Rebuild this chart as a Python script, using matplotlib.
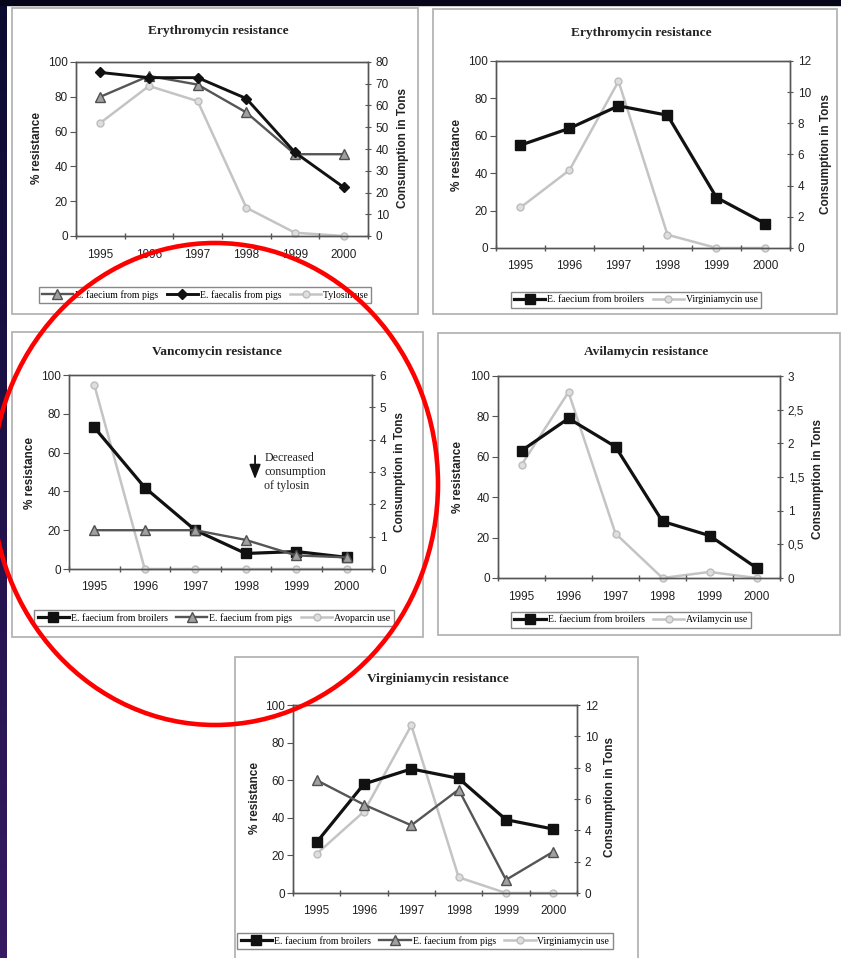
import numpy as np
import matplotlib
matplotlib.use('Agg')
import matplotlib.pyplot as plt
from matplotlib.patches import Rectangle, Ellipse
from matplotlib.ticker import FuncFormatter

W, H = 841, 958
years = ['1995', '1996', '1997', '1998', '1999', '2000']

# Panel 1 - Erythromycin resistance (pigs)
ery_pig_faecium = [80, 92, 87, 71, 47, 47]
ery_pig_faecalis = [94, 91, 91, 79, 48, 28]
tylosin_use = [52, 69, 62, 13, 1.5, 0]
# Panel 2 - Erythromycin resistance (broilers)
ery_broiler_faecium = [55, 64, 76, 71, 27, 13]
virginiamycin_use_a = [2.6, 5.0, 10.7, 0.85, 0, 0]
# Panel 3 - Vancomycin resistance
van_broiler = [73, 42, 20, 8, 9, 6]
van_pig = [20, 20, 20, 15, 7, 6]
avoparcin_use = [5.7, 0, 0, 0, 0, 0]
# Panel 4 - Avilamycin resistance
avi_broiler = [63, 79, 65, 28, 21, 5]
avilamycin_use = [1.68, 2.76, 0.66, 0, 0.09, 0]
# Panel 5 - Virginiamycin resistance
virg_broiler = [27, 58, 66, 61, 39, 34]
virg_pig = [60, 47, 36, 55, 7, 22]
virginiamycin_use_b = [2.5, 5.2, 10.7, 1.0, 0, 0]

SERIF = 'Liberation Serif'
SANS = 'Liberation Sans'

fig = plt.figure(figsize=(W / 100, H / 100), dpi=100)
fig.patch.set_facecolor('white')


def frect(x0, y0, x1, y1):
    return [x0 / W, 1 - y1 / H, (x1 - x0) / W, (y1 - y0) / H]


def fpt(x, y):
    return (x / W, 1 - y / H)


# background layer
bg = fig.add_axes([0, 0, 1, 1], zorder=0)
bg.set_xlim(0, W)
bg.set_ylim(H, 0)
bg.axis('off')
c0 = np.array([0x0a, 0x0a, 0x30]) / 255
c1 = np.array([0x36, 0x1a, 0x62]) / 255
t = np.linspace(0, 1, 256)[:, None, None]
grad = c0 * (1 - t) + c1 * t
bg.imshow(grad, extent=(0, 7, H, 0), aspect='auto', origin='upper', zorder=1)
bg.add_patch(Rectangle((0, 0), W, 5, color='#06061a', zorder=2))

panels = [(12, 8, 418, 314), (433, 9, 837, 314), (12, 332, 423, 637),
          (438, 333, 840, 635), (235, 657, 638, 962)]
for (x0, y0, x1, y1) in panels:
    bg.add_patch(Rectangle((x0, y0), x1 - x0, y1 - y0, facecolor='white',
                           edgecolor='#b4b4b4', lw=1.3, zorder=3))

x = np.arange(6)

STY = {
    'broiler': dict(color='#111111', lw=2.3, marker='s', ms=6.8, mfc='#111111', mec='#111111'),
    'faecalis': dict(color='#111111', lw=2.1, marker='D', ms=5.2, mfc='#111111', mec='#111111'),
    'pig': dict(color='#555555', lw=1.7, marker='^', ms=7.5, mfc='#a0a0a0', mec='#505050'),
    'use': dict(color='#c4c4c4', lw=1.8, marker='o', ms=5, mfc='#dedede', mec='#bdbdbd'),
}


def make_panel(rect, title, tpos, lpos, rpos, legpos, left_series, right_series,
               rmax, rstep, comma=False):
    ax = fig.add_axes(frect(*rect), zorder=5)
    ax2 = ax.twinx()
    ax.set_zorder(ax2.get_zorder() + 1)
    ax.patch.set_visible(False)
    ax2.patch.set_visible(True)
    ax2.patch.set_facecolor('white')

    handles = []
    labels = []
    for vals, sty, lab in left_series:
        h, = ax.plot(x, vals, **STY[sty], label=lab, clip_on=False, zorder=3)
        handles.append(h)
        labels.append(lab)
    for vals, sty, lab in right_series:
        h, = ax2.plot(x, vals, **STY[sty], label=lab, clip_on=False, zorder=2)
        handles.append(h)
        labels.append(lab)

    ax.set_xlim(-0.5, 5.5)
    ax.set_ylim(0, 100)
    ax.set_yticks(np.arange(0, 101, 20))
    ax2.set_ylim(0, rmax)
    ax2.set_yticks(np.arange(0, rmax + rstep / 2, rstep))
    if comma:
        ax2.yaxis.set_major_formatter(FuncFormatter(
            lambda v, p: ('%g' % v).replace('.', ',')))
    ax.set_xticks(x)
    ax.set_xticklabels(years)
    ax.set_xticks(np.arange(-0.5, 6, 1), minor=True)
    ax.tick_params(axis='x', which='major', length=0, pad=9, labelsize=8.5,
                   labelcolor='#222222')
    ax.tick_params(axis='x', which='minor', length=5, direction='inout',
                   color='#555555', width=1)
    ax.tick_params(axis='y', length=4, direction='out', pad=2, labelsize=8.5,
                   labelcolor='#222222', color='#555555')
    ax2.tick_params(axis='y', length=5, direction='inout', pad=3, labelsize=8.5,
                    labelcolor='#222222', color='#555555')
    for a in (ax, ax2):
        for lbl in a.get_xticklabels() + a.get_yticklabels():
            lbl.set_family(SANS)
        for s in a.spines.values():
            s.set_color('#555555')
            s.set_linewidth(1.0)

    fig.text(*fpt(*tpos), title, ha='center', va='center', family=SERIF,
             fontweight='bold', fontsize=9.6, color='#222222')
    fig.text(*fpt(*lpos), '% resistance', ha='center', va='center', rotation=90,
             family=SANS, fontweight='bold', fontsize=8.5, color='#222222')
    fig.text(*fpt(*rpos), 'Consumption in Tons', ha='center', va='center',
             rotation=90, family=SANS, fontweight='bold', fontsize=8.5,
             color='#222222')
    leg = ax.legend(handles, labels, loc='center', bbox_to_anchor=fpt(*legpos),
                    bbox_transform=fig.transFigure, ncol=len(handles),
                    prop={'family': SERIF, 'size': 7}, frameon=True,
                    fancybox=False, edgecolor='#888888', framealpha=1,
                    handlelength=3.2, handletextpad=0.2, columnspacing=0.9,
                    borderpad=0.35, borderaxespad=0)
    leg.get_frame().set_linewidth(1.0)
    return ax, ax2


make_panel((76, 62, 368, 236), 'Erythromycin resistance', (218, 31), (37, 148),
           (403, 148), (205, 295),
           [(ery_pig_faecium, 'pig', 'E. faecium from pigs'),
            (ery_pig_faecalis, 'faecalis', 'E. faecalis from pigs')],
           [(tylosin_use, 'use', 'Tylosin use')], 80, 10)

make_panel((496, 61, 790, 248), 'Erythromycin resistance', (641, 33), (457, 155),
           (826, 154), (636, 300),
           [(ery_broiler_faecium, 'broiler', 'E. faecium from broilers')],
           [(virginiamycin_use_a, 'use', 'Virginiamycin use')], 12, 2)

ax3, ax3b = make_panel((69, 375, 372, 569), 'Vancomycin resistance', (217, 352),
                       (30, 473), (400, 472), (214, 618),
                       [(van_broiler, 'broiler', 'E. faecium from broilers'),
                        (van_pig, 'pig', 'E. faecium from pigs')],
                       [(avoparcin_use, 'use', 'Avoparcin use')], 6, 1)
ax3.annotate('', xy=(0.614, 0.463), xytext=(0.614, 0.584),
             xycoords='axes fraction',
             arrowprops=dict(arrowstyle='-|>,head_length=0.62,head_width=0.24',
                             color='#111111', lw=1.3, mutation_scale=14,
                             shrinkA=0, shrinkB=0))
ax3.text(0.645, 0.5, 'Decreased\nconsumption\nof tylosin', transform=ax3.transAxes,
         ha='left', va='center', family=SERIF, fontsize=8.6, color='#222222',
         linespacing=1.2)

make_panel((498, 376, 780, 578), 'Avilamycin resistance', (646, 352), (458, 477),
           (818, 479), (631, 620),
           [(avi_broiler, 'broiler', 'E. faecium from broilers')],
           [(avilamycin_use, 'use', 'Avilamycin use')], 3, 0.5, comma=True)

make_panel((293, 705, 577, 893), 'Virginiamycin resistance', (438, 679), (255, 798),
           (610, 797), (425, 941),
           [(virg_broiler, 'broiler', 'E. faecium from broilers'),
            (virg_pig, 'pig', 'E. faecium from pigs')],
           [(virginiamycin_use_b, 'use', 'Virginiamycin use')], 12, 2)

# overlay with red circle
ov = fig.add_axes([0, 0, 1, 1], zorder=50)
ov.set_xlim(0, W)
ov.set_ylim(H, 0)
ov.axis('off')
ov.patch.set_visible(False)
ov.add_patch(Ellipse((215, 484), 446, 482, fill=False, edgecolor='#ff0000', lw=3.3))

fig.savefig('out.png', dpi=100, facecolor='white')
